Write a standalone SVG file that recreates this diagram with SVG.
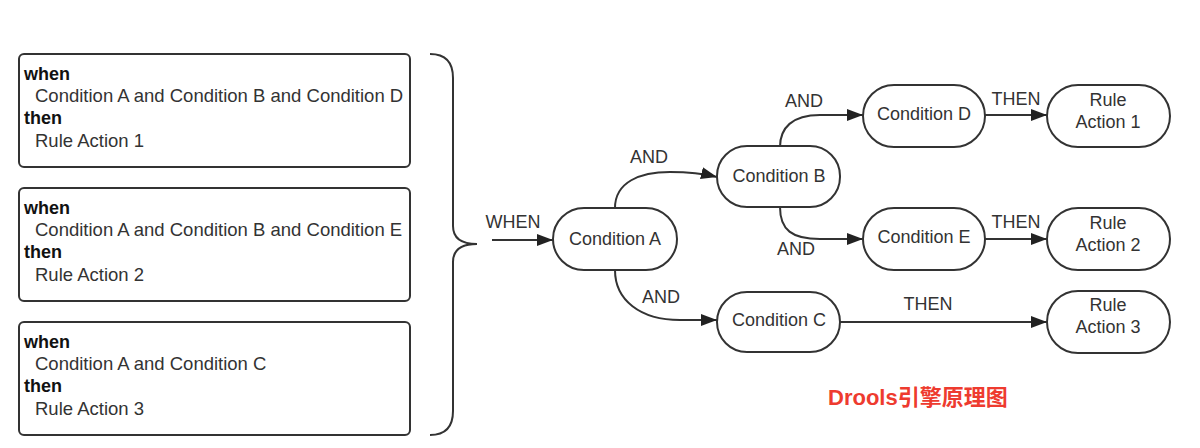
<svg xmlns="http://www.w3.org/2000/svg" width="1200" height="448" viewBox="0 0 1200 448">
  <style>
    .box { fill: #ffffff; stroke: #333333; stroke-width: 2; }
    .node { fill: #ffffff; stroke: #333333; stroke-width: 2; }
    .txt { font-family: "Liberation Sans", Arial, sans-serif; font-size: 18px; fill: #333333; }
    .body { font-size: 18.5px; }
    .kw { font-family: "Liberation Sans", Arial, sans-serif; font-size: 18px; font-weight: bold; fill: #111111; }
    .mid { text-anchor: middle; }
    .edge { fill: none; stroke: #333333; stroke-width: 2; }
    .title { font-family: "Liberation Sans", Arial, "Noto Sans CJK SC", sans-serif; font-size: 22px; font-weight: bold; fill: #ee3b2f; }
  </style>
  <defs>
    <marker id="arrow" markerWidth="16" markerHeight="12" refX="16" refY="6" orient="auto" markerUnits="userSpaceOnUse">
      <path d="M0,0 L16,6 L0,12 Z" fill="#222222"/>
    </marker>
  </defs>
  <rect width="1200" height="448" fill="#ffffff"/>

  <!-- rule listings -->
  <g id="rule1">
    <rect class="box" x="19" y="54" width="391" height="113" rx="5"/>
    <text class="kw" x="24" y="80">when</text>
    <text class="txt body" x="35" y="102">Condition A and Condition B and Condition D</text>
    <text class="kw" x="24" y="124">then</text>
    <text class="txt body" x="35" y="147">Rule Action 1</text>
  </g>
  <g id="rule2">
    <rect class="box" x="19" y="188" width="391" height="113" rx="5"/>
    <text class="kw" x="24" y="214">when</text>
    <text class="txt body" x="35" y="236">Condition A and Condition B and Condition E</text>
    <text class="kw" x="24" y="258">then</text>
    <text class="txt body" x="35" y="281">Rule Action 2</text>
  </g>
  <g id="rule3">
    <rect class="box" x="19" y="322" width="391" height="113" rx="5"/>
    <text class="kw" x="24" y="348">when</text>
    <text class="txt body" x="35" y="370">Condition A and Condition C</text>
    <text class="kw" x="24" y="392">then</text>
    <text class="txt body" x="35" y="415">Rule Action 3</text>
  </g>

  <!-- brace grouping the rules -->
  <g id="brace">
    <path class="edge" d="M430,54 Q453,54 453,78 L453,226 Q453,244 477,244 Q453,244 453,262 L453,411 Q453,435 430,435"/>
  </g>

  <!-- connectors -->
  <g id="connectors">
    <path class="edge" d="M492,240 L553,240" marker-end="url(#arrow)"/>
    <text class="txt mid" x="513" y="228">WHEN</text>

    <path class="edge" d="M615,208 C615,182 640,172 670,172 C690,172 705,174 717,177" marker-end="url(#arrow)"/>
    <text class="txt mid" x="649" y="163">AND</text>

    <path class="edge" d="M615,270 C615,300 640,320 680,320 L717,320" marker-end="url(#arrow)"/>
    <text class="txt mid" x="661" y="303">AND</text>

    <path class="edge" d="M780,147 C780,128 792,115 820,115 L863,115" marker-end="url(#arrow)"/>
    <text class="txt mid" x="804" y="107">AND</text>

    <path class="edge" d="M780,207 C780,230 792,239 820,239 L863,239" marker-end="url(#arrow)"/>
    <text class="txt mid" x="796" y="255">AND</text>

    <path class="edge" d="M985,115 L1047,115" marker-end="url(#arrow)"/>
    <text class="txt mid" x="1016" y="105">THEN</text>

    <path class="edge" d="M985,239 L1047,239" marker-end="url(#arrow)"/>
    <text class="txt mid" x="1016" y="228">THEN</text>

    <path class="edge" d="M840,322 L1047,322" marker-end="url(#arrow)"/>
    <text class="txt mid" x="928" y="310">THEN</text>
  </g>

  <!-- condition nodes -->
  <g id="condA">
    <rect class="node" x="553" y="208" width="124" height="62" rx="31"/>
    <text class="txt mid" x="615" y="245">Condition A</text>
  </g>
  <g id="condB">
    <rect class="node" x="717" y="146" width="123" height="61" rx="30"/>
    <text class="txt mid" x="779" y="182">Condition B</text>
  </g>
  <g id="condC">
    <rect class="node" x="717" y="292" width="123" height="60" rx="30"/>
    <text class="txt mid" x="779" y="326">Condition C</text>
  </g>
  <g id="condD">
    <rect class="node" x="863" y="85" width="122" height="62" rx="31"/>
    <text class="txt mid" x="924" y="120">Condition D</text>
  </g>
  <g id="condE">
    <rect class="node" x="863" y="208" width="122" height="62" rx="31"/>
    <text class="txt mid" x="924" y="243">Condition E</text>
  </g>

  <!-- action nodes -->
  <g id="action1">
    <rect class="node" x="1047" y="85" width="123" height="62" rx="31"/>
    <text class="txt mid" x="1108" y="106">Rule</text>
    <text class="txt mid" x="1108" y="128">Action 1</text>
  </g>
  <g id="action2">
    <rect class="node" x="1047" y="208" width="123" height="62" rx="31"/>
    <text class="txt mid" x="1108" y="229">Rule</text>
    <text class="txt mid" x="1108" y="251">Action 2</text>
  </g>
  <g id="action3">
    <rect class="node" x="1047" y="291" width="123" height="62" rx="31"/>
    <text class="txt mid" x="1108" y="311">Rule</text>
    <text class="txt mid" x="1108" y="333">Action 3</text>
  </g>

  <text class="title" x="828" y="405">Drools引擎原理图</text>
</svg>
